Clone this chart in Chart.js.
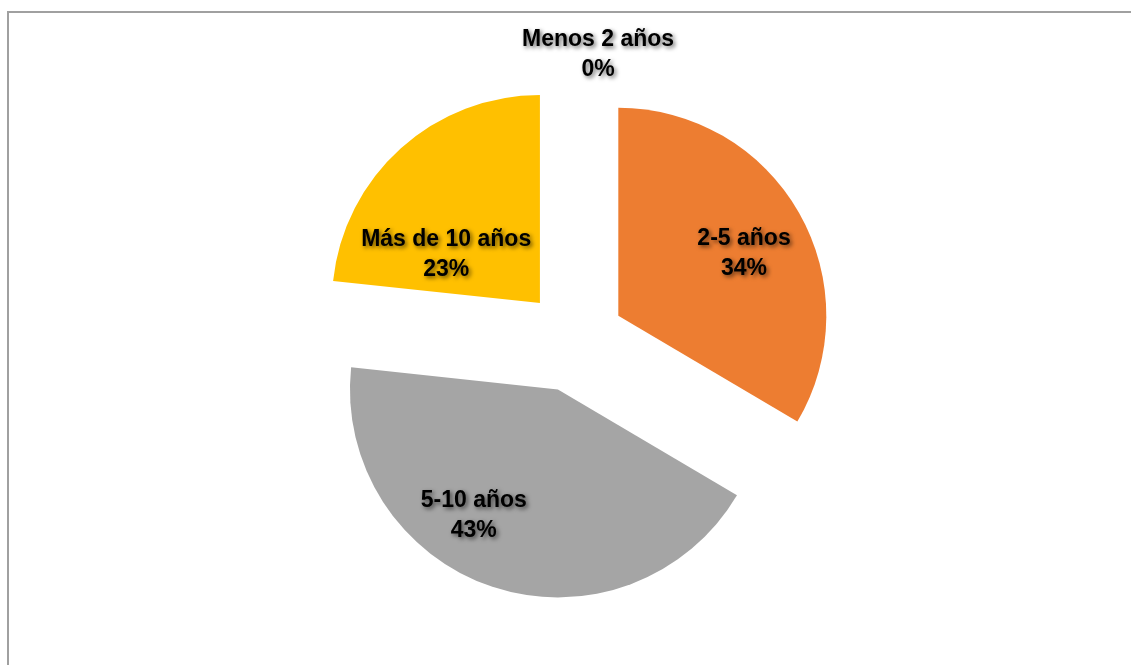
<!DOCTYPE html>
<html>
<head>
<meta charset="utf-8">
<script src="https://cdn.jsdelivr.net/npm/chart.js@4/dist/chart.umd.min.js"></script>
<style>
    html, body { margin: 0; padding: 0; background: #ffffff; overflow: hidden; }
    #frame {
        position: absolute; left: 7px; top: 11px;
        width: 1200px; height: 700px;
        border-top: 2px solid #a0a0a0; border-left: 2px solid #a0a0a0;
    }
    #wrap { position: absolute; left: 0; top: 0; width: 1131px; height: 665px; }
</style>
</head>
<body>
<div id="frame"></div>
<div id="wrap"><canvas id="pieChart"></canvas></div>
<script>
// Datos del gráfico
const categorias = ['Menos 2 años', '2-5 años', '5-10 años', 'Más de 10 años'];
const porcentajes = [0, 33.5, 43.2, 23.3];
const colores = ['#4472C4', '#ED7D31', '#A5A5A5', '#FFC000'];

// Posición de las etiquetas (ángulo desde arriba en grados, distancia al centro)
const posEtiquetas = [
    { ang: 4.8, dist: 287 },
    { ang: 62.9, dist: 191 },
    { ang: 209.9, dist: 201 },
    { ang: 303.9, dist: 154 }
];

const SEPARACION = 51; // desplazamiento de cada porción (pie explotado)

// Dibuja cada porción desplazada hacia afuera
const explodePlugin = {
    id: 'explode',
    beforeDatasetDraw(chart, args) {
        const ctx = chart.ctx;
        args.meta.data.forEach(function(arc) {
            if (arc.endAngle === arc.startAngle) return;
            const mid = (arc.startAngle + arc.endAngle) / 2;
            ctx.save();
            ctx.translate(Math.cos(mid) * SEPARACION, Math.sin(mid) * SEPARACION);
            arc.draw(ctx);
            ctx.restore();
        });
        return false;
    }
};

// Etiquetas con nombre y porcentaje
const labelsPlugin = {
    id: 'etiquetas',
    afterDatasetsDraw(chart) {
        const ctx = chart.ctx;
        const arc0 = chart.getDatasetMeta(0).data[0];
        const cx = arc0.x;
        const cy = arc0.y;
        ctx.save();
        ctx.font = 'bold 23px "Liberation Sans", Arial, sans-serif';
        ctx.textAlign = 'center';
        ctx.textBaseline = 'middle';
        ctx.fillStyle = '#000000';
        ctx.shadowColor = 'rgba(0, 0, 0, 0.6)';
        ctx.shadowBlur = 4;
        ctx.shadowOffsetX = 2;
        ctx.shadowOffsetY = 2;
        categorias.forEach(function(cat, i) {
            const a = posEtiquetas[i].ang * Math.PI / 180;
            const x = cx + Math.sin(a) * posEtiquetas[i].dist;
            const y = cy - Math.cos(a) * posEtiquetas[i].dist;
            ctx.fillText(cat, x, y - 15);
            ctx.fillText(Math.round(porcentajes[i]) + '%', x, y + 15);
        });
        ctx.restore();
    }
};

const ctx = document.getElementById('pieChart').getContext('2d');

new Chart(ctx, {
    type: 'pie',
    data: {
        labels: categorias,
        datasets: [{
            data: porcentajes,
            backgroundColor: colores,
            borderWidth: 0
        }]
    },
    options: {
        responsive: true,
        maintainAspectRatio: false,
        animation: false,
        radius: 208,
        layout: {
            padding: { left: 17, top: 17, right: 0, bottom: 0 }
        },
        plugins: {
            legend: { display: false },
            tooltip: { enabled: false }
        },
        events: []
    },
    plugins: [explodePlugin, labelsPlugin]
});
</script>
</body>
</html>
